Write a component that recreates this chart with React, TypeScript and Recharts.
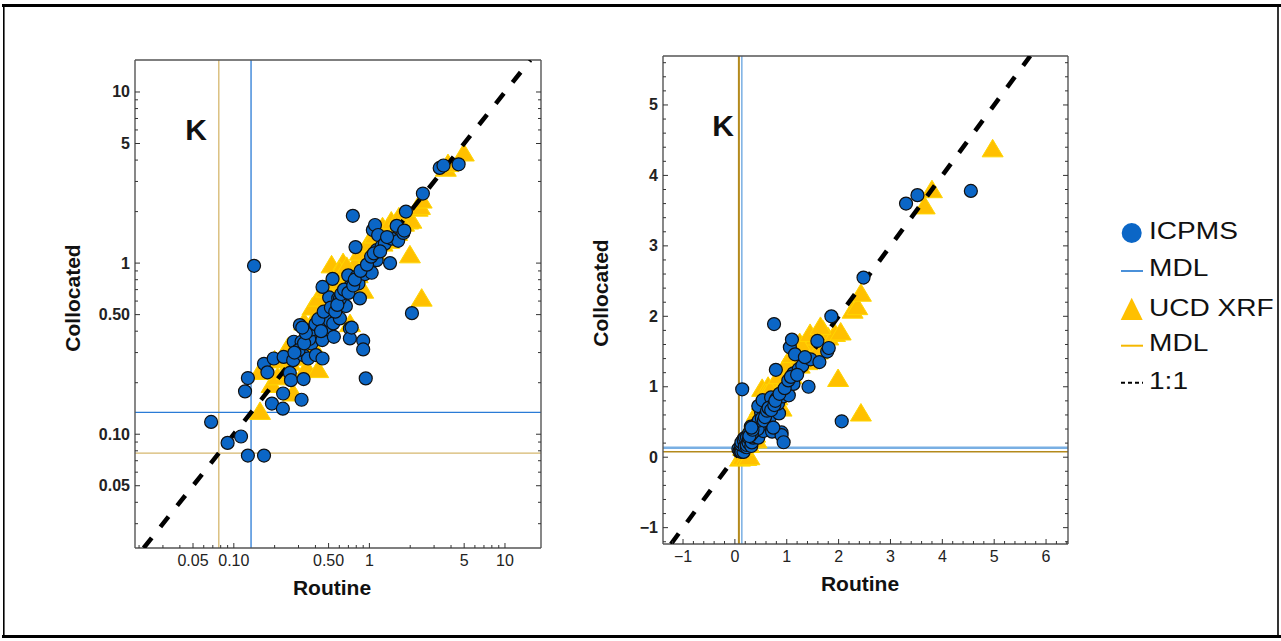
import { ReferenceLine, Scatter, ScatterChart, XAxis, YAxis } from "recharts";

// ---- data (K, µg/m3): routine vs collocated ----
const icpmsRoutine = [
  0.068, 0.09, 0.113, 0.127, 0.167, 0.121, 0.127, 0.141, 0.167, 0.177, 0.191, 0.197, 0.23, 0.231, 0.233, 0.259,
  0.264, 0.274, 0.277, 0.307, 0.316, 0.316, 0.325, 0.327, 0.353, 0.374, 0.403, 0.426, 0.449, 0.451, 0.48, 0.497,
  0.505, 0.51, 0.541, 0.547, 0.589, 0.606, 0.671, 0.718, 0.718, 0.851, 0.9, 0.9, 0.94, 0.451, 0.535, 0.606,
  0.698, 0.718, 0.755, 0.79, 0.805, 0.83, 0.927, 1.0, 1.04, 1.06, 1.1, 1.13, 1.13, 1.16, 1.23, 1.3, 1.42, 1.46,
  1.59, 1.63, 1.78, 1.81, 1.86, 2.06, 2.48, 3.3, 3.52, 4.55, 0.36, 0.38, 0.4, 0.42, 0.44, 0.46, 0.52, 0.56, 0.58,
  0.62, 0.65, 0.7, 0.76, 0.78, 0.86, 0.96, 1.03, 1.08, 1.2, 1.35, 0.3, 0.33, 0.28, 0.34, 0.74, 0.32,
];
const icpmsCollocated = [
  0.118, 0.089, 0.097, 0.075, 0.075, 0.178, 0.213, 0.964, 0.258, 0.23, 0.151, 0.277, 0.141, 0.173, 0.283, 0.228,
  0.207, 0.271, 0.347, 0.434, 0.159, 0.347, 0.29, 0.21, 0.277, 0.339, 0.29, 0.388, 0.355, 0.277, 0.42, 0.497,
  0.63, 0.46, 0.444, 0.371, 0.622, 0.475, 0.561, 0.415, 0.363, 0.622, 0.352, 0.313, 0.212, 0.726, 0.809, 0.618,
  0.848, 0.726, 1.89, 1.24, 0.832, 0.76, 0.863, 1.0, 0.878, 1.56, 1.67, 1.04, 1.19, 1.46, 1.25, 1.3, 1.0, 1.39,
  1.65, 1.35, 1.5, 1.55, 2.0, 0.51, 2.55, 3.6, 3.72, 3.78, 0.36, 0.41, 0.44, 0.47, 0.4, 0.52, 0.55, 0.52, 0.57,
  0.66, 0.7, 0.67, 0.74, 0.8, 0.9, 0.98, 1.09, 1.14, 1.17, 1.42, 0.31, 0.34, 0.3, 0.39, 0.42, 0.42,
];
const xrfRoutine = [
  0.1, 0.15, 0.22, 0.28, 0.156, 0.156, 0.19, 0.21, 0.245, 0.274, 0.26, 0.3, 0.31, 0.344, 0.35, 0.37, 0.39, 0.419,
  0.41, 0.43, 0.45, 0.47, 0.5, 0.526, 0.54, 0.55, 0.58, 0.6, 0.62, 0.64, 0.66, 0.7, 0.72, 0.75, 0.8, 0.82, 0.9,
  0.9, 0.95, 1.0, 1.05, 1.1, 1.15, 1.2, 1.25, 1.3, 1.35, 1.4, 1.5, 1.55, 1.6, 1.7, 1.8, 1.93, 1.99, 2.04, 2.27,
  2.36, 2.43, 2.43, 3.66, 3.8, 4.97, 0.2, 0.25, 0.33, 0.38, 0.42, 0.48, 0.52, 0.6, 0.68, 0.85, 0.98, 1.1, 1.25,
  1.45, 1.65,
];
const xrfCollocated = [
  -0.02, 0.0, -0.01, 0.0, 0.135, 0.231, 0.194, 0.215, 0.231, 0.173, 0.262, 0.28, 0.33, 0.242, 0.365, 0.42, 0.32,
  0.237, 0.497, 0.45, 0.55, 0.6, 0.52, 0.97, 0.65, 0.72, 0.8, 0.58, 0.88, 1.0, 0.7, 0.75, 0.44, 0.9, 1.0, 0.85,
  0.69, 0.95, 1.05, 1.1, 1.25, 1.15, 1.4, 1.5, 1.3, 1.45, 1.55, 1.35, 1.6, 1.7, 1.5, 1.8, 1.7, 1.75, 1.11, 1.77,
  2.08, 2.13, 2.32, 0.62, 3.56, 3.79, 4.37, 0.27, 0.32, 0.45, 0.55, 0.62, 0.7, 0.78, 0.9, 0.95, 1.15, 1.3, 1.45,
  1.62, 1.75, 1.85,
];
const icpmsMdl = 0.134;
const xrfMdl = 0.0775;

const logDomainX = [0.01867, 18.44];
const logDomainY = [0.02163, 15.38];
const linDomainX = [-1.386, 6.423];
const linDomainY = [-1.232, 5.695];
const oneToOneLog = [0.02163, 15.38];
const oneToOneLin = [-1.232, 5.695];

const logMajor = [0.05, 0.1, 0.5, 1, 5, 10];
const logMajorLabels = ["0.05", "0.10", "0.50", "1", "5", "10"];
const logMinor = [0.02, 0.03, 0.04, 0.06, 0.07, 0.08, 0.09, 0.2, 0.3, 0.4, 0.6, 0.7, 0.8, 0.9, 2, 3, 4, 6, 7, 8, 9];
const linMajorX = [-1, 0, 1, 2, 3, 4, 5, 6];
const linMajorY = [-1, 0, 1, 2, 3, 4, 5];

const FONT = "'Liberation Sans', Arial, sans-serif";
const AXIS = "#555";

const icpms = icpmsRoutine.map((x, i) => ({ x, y: icpmsCollocated[i] }));
const xrf = xrfRoutine.map((x, i) => ({ x, y: xrfCollocated[i] }));
const positive = (p: { x: number; y: number }) => p.x > 0 && p.y > 0;

function minorLin(lo: number, hi: number) {
  const out: number[] = [];
  for (let k = Math.ceil(lo * 5); k <= Math.floor(hi * 5); k++) out.push(k / 5);
  return out;
}

function makeTick(side: string, majors: number[], label?: (v: number) => string) {
  return (p: any) => {
    const { x, y, payload } = p;
    const v = payload.value;
    const major = majors.some((m) => Math.abs(m - v) < 1e-9);
    const len = major ? 5 : 3;
    let l = { x1: x, y1: y, x2: x, y2: y };
    if (side === "bottom") l.y2 = y - len;
    if (side === "top") l.y2 = y + len;
    if (side === "left") l.x2 = x + len;
    if (side === "right") l.x2 = x - len;
    const txt = major && label ? label(v) : null;
    return (
      <g>
        <line {...l} stroke="#333" strokeWidth={1} />
        {txt && side === "bottom" && (
          <text x={x} y={y + 12} textAnchor="middle" dominantBaseline="central" fontSize={16} fontFamily={FONT} fill="#222">
            {txt}
          </text>
        )}
        {txt && side === "left" && (
          <text x={x - 5} y={y} textAnchor="end" dominantBaseline="central" fontSize={16} fontWeight="bold" fontFamily={FONT} fill="#222">
            {txt}
          </text>
        )}
      </g>
    );
  };
}

const Dot = (p: any) => <circle cx={p.cx} cy={p.cy} r={6.5} fill="#0b66c6" stroke="#111" strokeWidth={1.2} />;
const Tri = (p: any) => (
  <path
    d={`M${p.cx},${p.cy - 10} L${p.cx + 10.5},${p.cy + 7.5} L${p.cx - 10.5},${p.cy + 7.5} Z`}
    fill="#ffc000"
    stroke="#ffd500"
    strokeWidth={1}
  />
);
const NoMark = () => <g />;

const fmtLin = (v: number) => (v < 0 ? "\u2212" + Math.abs(v) : String(v));
const fmtLog = (v: number) => logMajorLabels[logMajor.findIndex((m) => Math.abs(m - v) < 1e-9)];

function Panel({ log }: { log: boolean }) {
  const dx = log ? logDomainX : linDomainX;
  const dy = log ? logDomainY : linDomainY;
  const xt = log ? [...logMajor, ...logMinor].filter((t) => t >= dx[0] && t <= dx[1]) : minorLin(dx[0], dx[1]);
  const yt = log ? [...logMajor, ...logMinor].filter((t) => t >= dy[0] && t <= dy[1]) : minorLin(dy[0], dy[1]);
  const xm = log ? logMajor : linMajorX;
  const ym = log ? logMajor : linMajorY;
  const fx = log ? fmtLog : fmtLin;
  const scale = log ? "log" : "linear";
  const diag = (log ? oneToOneLog : oneToOneLin).map((v) => ({ x: v, y: v }));
  const blue = log ? "#2a7bd6" : "#79afe3";
  const gold = log ? "#d6b76e" : "#b48a1c";
  const common = {
    type: "number" as const,
    scale: scale as any,
    allowDataOverflow: true,
    tickLine: false,
    tickSize: 0,
    tickMargin: 0,
    interval: 0 as const,
    axisLine: { stroke: AXIS, strokeWidth: 1.4 },
  };
  return (
    <ScatterChart width={log ? 496 : 495} height={548} margin={{ top: 0, right: 0, bottom: 0, left: 0 }}>
      <XAxis xAxisId="b" dataKey="x" orientation="bottom" height={50} domain={dx} ticks={xt} tick={makeTick("bottom", xm, fx)} {...common} />
      <XAxis xAxisId="t" orientation="top" height={10} domain={dx} ticks={xt} tick={makeTick("top", xm)} {...common} />
      <YAxis yAxisId="l" dataKey="y" orientation="left" width={80} domain={dy} ticks={yt} tick={makeTick("left", ym, fx)} {...common} />
      <YAxis yAxisId="r" orientation="right" width={10} domain={dy} ticks={yt} tick={makeTick("right", ym)} {...common} />
      <ReferenceLine xAxisId="b" yAxisId="l" x={xrfMdl} stroke={gold} strokeWidth={log ? 1.3 : 2} />
      <ReferenceLine xAxisId="b" yAxisId="l" y={xrfMdl} stroke={gold} strokeWidth={log ? 1.3 : 1.5} />
      <ReferenceLine xAxisId="b" yAxisId="l" x={icpmsMdl} stroke={blue} strokeWidth={log ? 1.3 : 1.5} />
      <ReferenceLine xAxisId="b" yAxisId="l" y={icpmsMdl} stroke={blue} strokeWidth={log ? 1.3 : 2.5} />
      <Scatter xAxisId="b" yAxisId="l" data={log ? xrf.filter(positive) : xrf} shape={Tri} isAnimationActive={false} />
      <Scatter
        xAxisId="b"
        yAxisId="l"
        data={diag}
        shape={NoMark}
        line={{ stroke: "#000", strokeWidth: 4.5, strokeDasharray: "13 14" }}
        isAnimationActive={false}
      />
      <Scatter xAxisId="b" yAxisId="l" data={log ? icpms.filter(positive) : icpms} shape={Dot} isAnimationActive={false} />
    </ScatterChart>
  );
}

const legendRows = ["ICPMS", "MDL", "UCD XRF", "MDL", "1:1"];
const legendBase = [239, 276, 316, 351, 389];

export default function App() {
  const title = { fontFamily: FONT, fontWeight: "bold" as const, fill: "#111" };
  return (
    <div style={{ position: "absolute", left: 0, top: 0, width: 1281, height: 641, background: "#fff" }}>
      <div style={{ position: "absolute", left: 55, top: 50 }}>
        <Panel log />
      </div>
      <div style={{ position: "absolute", left: 583, top: 46 }}>
        <Panel log={false} />
      </div>
      <svg width={1281} height={641} style={{ position: "absolute", left: 0, top: 0, pointerEvents: "none" }}>
        <line x1={2} y1={5.5} x2={1281} y2={5.5} stroke="#000" strokeWidth={3} />
        <line x1={2} y1={636.5} x2={1281} y2={636.5} stroke="#000" strokeWidth={3} />
        <line x1={3.8} y1={4} x2={3.8} y2={638} stroke="#000" strokeWidth={1.6} />
        <line x1={1278} y1={4} x2={1278} y2={638} stroke="#000" strokeWidth={1.6} />

        <text x={196} y={129} textAnchor="middle" dominantBaseline="central" fontSize={30} {...title}>K</text>
        <text x={723} y={125} textAnchor="middle" dominantBaseline="central" fontSize={30} {...title}>K</text>

        <text x={332} y={587} textAnchor="middle" dominantBaseline="central" fontSize={21} {...title}>Routine</text>
        <text x={860} y={583} textAnchor="middle" dominantBaseline="central" fontSize={21} {...title}>Routine</text>
        <text transform="translate(72,298) rotate(-90)" textAnchor="middle" dominantBaseline="central" fontSize={21} {...title}>Collocated</text>
        <text transform="translate(600,293) rotate(-90)" textAnchor="middle" dominantBaseline="central" fontSize={21} {...title}>Collocated</text>

        <circle cx={1131.7} cy={233} r={10} fill="#0b66c6" />
        <line x1={1121} y1={271} x2={1143} y2={271} stroke="#4a90d9" strokeWidth={2} />
        <path d="M1131.7,297.7 L1142.7,320 L1120.7,320 Z" fill="#ffc000" />
        <line x1={1121} y1={345.7} x2={1143} y2={345.7} stroke="#f5b800" strokeWidth={2} />
        <line x1={1121} y1={382.7} x2={1143} y2={382.7} stroke="#000" strokeWidth={2} strokeDasharray="4 3" />
        {legendRows.map((t, i) => (
          <text key={i} transform={`translate(1149,${legendBase[i]}) scale(1.17,1)`} fontSize={24} fontFamily={FONT} fill="#111">
            {t}
          </text>
        ))}
      </svg>
    </div>
  );
}
